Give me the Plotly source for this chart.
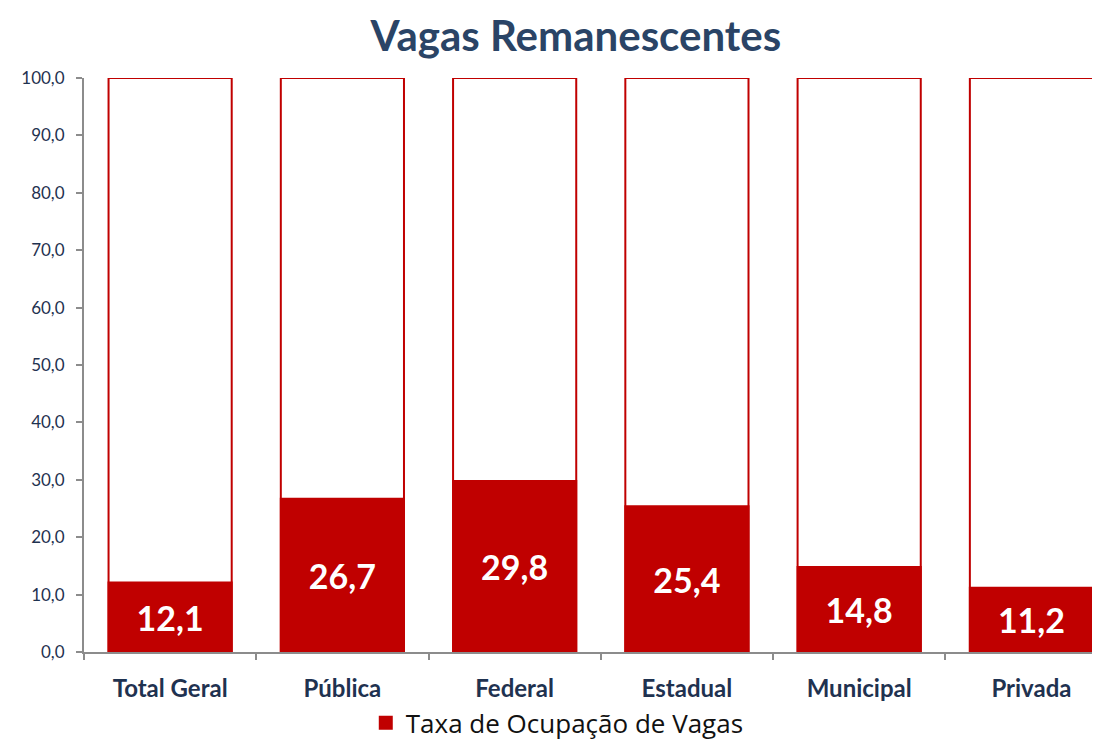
import plotly.graph_objects as go

categorias = ["Total Geral", "Pública", "Federal", "Estadual", "Municipal", "Privada"]
ocupacao = [12.1, 26.7, 29.8, 25.4, 14.8, 11.2]
capacidade = [100.0, 100.0, 100.0, 100.0, 100.0, 100.0]
y_ticks = [0, 10, 20, 30, 40, 50, 60, 70, 80, 90, 100]

VERMELHO = "#C00000"
AZUL = "#1F3250"

fig = go.Figure()

# barra de fundo (100%) branca com contorno vermelho
fig.add_trace(go.Bar(
    x=categorias,
    y=capacidade,
    marker=dict(color="white", line=dict(color=VERMELHO, width=2)),
    width=0.715,
    showlegend=False,
    hoverinfo="skip",
))

fig.add_trace(go.Bar(
    x=categorias,
    y=ocupacao,
    name="Taxa de Ocupação de Vagas",
    marker=dict(color=VERMELHO, line=dict(color=VERMELHO, width=2)),
    width=0.715,
    text=[f"{v:.1f}".replace(".", ",") for v in ocupacao],
    textposition="inside",
    insidetextanchor="middle",
    textangle=0,
    textfont=dict(family="Lato", size=34, color="white", weight="bold"),
))

# a página tem margem de 8px no body, por isso a figura é 8px menor
fig.update_layout(
    barmode="overlay",
    width=1092,
    height=734,
    separators=",.",
    plot_bgcolor="white",
    paper_bgcolor="white",
    margin=dict(l=76, r=0, t=70, b=90, autoexpand=False),
    title=dict(
        text="<b>Vagas Remanescentes</b>",
        x=0.52, xanchor="center",
        y=0.962, yanchor="middle",
        font=dict(family="Lato", size=42, color="#2A4466"),
    ),
    showlegend=True,
    legend=dict(
        orientation="h",
        xref="container", x=0.503, xanchor="center",
        yref="container", y=0.026, yanchor="middle",
        font=dict(family="Open Sans", size=26, color="#111111"),
        itemwidth=30,
    ),
    xaxis=dict(
        range=[-0.5, 5.398],
        showline=True, linecolor="#8C8C8C", linewidth=2,
        ticks="outside", tickson="boundaries", ticklen=6,
        tickcolor="#8C8C8C", tickwidth=2,
        ticklabelstandoff=14,
        tickfont=dict(family="Lato", size=24, color=AZUL, weight="bold"),
        showgrid=False,
    ),
    yaxis=dict(
        range=[0, 100],
        tickvals=y_ticks,
        tickformat=".1f",
        showline=True, linecolor="#8C8C8C", linewidth=2,
        ticks="outside", ticklen=6, tickcolor="#8C8C8C", tickwidth=2,
        ticklabelstandoff=8,
        tickfont=dict(family="Lato", size=17, color=AZUL),
        showgrid=False, zeroline=False,
    ),
)

fig.write_html("out.html")
